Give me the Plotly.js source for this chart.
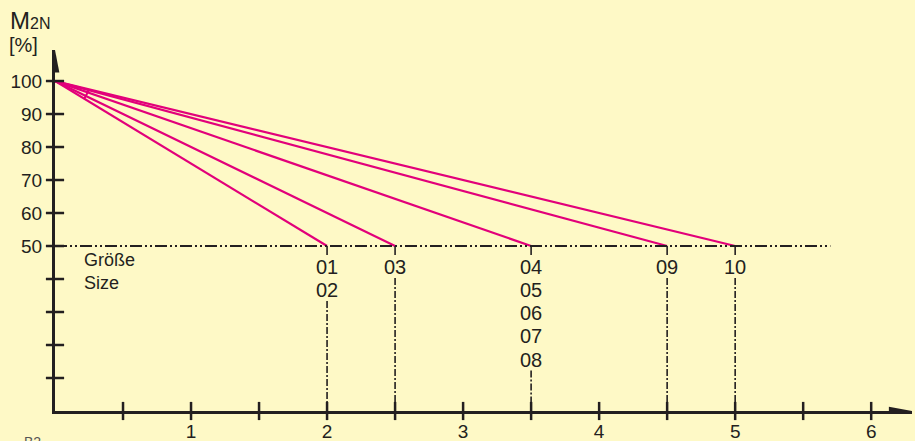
<!DOCTYPE html>
<html>
<head>
<meta charset="utf-8">
<script src="https://cdn.plot.ly/plotly-3.0.1.min.js"></script>
<style>html,body{margin:0;padding:0;background:#FEF9C6;}#chart{width:915px;height:441px;}</style>
</head>
<body>
<div id="chart"></div>
<script>
// ---- data ----
const startX = 0;
const startY = 100;          // M2N [%] at start
const endY = 50;             // M2N [%] at end
const endX = [2, 2.5, 3.5, 4.5, 5];
const sizeLabels = [["01","02"],["03"],["04","05","06","07","08"],["09"],["10"]];
const yTickVals = [10,20,30,40,50,60,70,80,90,100];
const yTickText = ["","","","","50","60","70","80","90","100"];
const xTickVals = [0.5,1,1.5,2,2.5,3,3.5,4,4.5,5,5.5,6];
const xTickText = ["","1","","2","","3","","4","","5","","6"];
const refLineEndX = 5.7;
const xMax = 6.3, yMax = 109.4;

const MAG = '#E2007A';
const INK = '#231F20';
const BG = '#FEF9C6';
const FONT = 'Liberation Sans, Arial, sans-serif';

const traces = [];
// magenta lines
endX.forEach(x => {
  traces.push({x:[startX, x], y:[startY, endY], mode:'lines', line:{color:MAG, width:2.2}, hoverinfo:'skip', cliponaxis:false});
});
// small angle mark
traces.push({x:[0.215, 0.25], y:[startY-25*0.215, startY-10.8*0.25], mode:'lines', line:{color:MAG, width:2}, hoverinfo:'skip'});
// horizontal reference line at 50
traces.push({x:[0, refLineEndX], y:[endY, endY], mode:'lines', line:{color:INK, width:2, dash:'12px,3px,2px,3px,2px,3px'}, hoverinfo:'skip'});

// vertical dash-dot lines with gaps for labels
const rowStep = 7, firstRow = 43.6;
const annotations = [];
endX.forEach((x, i) => {
  const labs = sizeLabels[i];
  traces.push({x:[x, x], y:[endY, 47.3], mode:'lines', line:{color:INK, width:1.6}, hoverinfo:'skip'});
  const bottomGap = firstRow - rowStep*(labs.length-1) - 3.3;
  traces.push({x:[x, x], y:[bottomGap, 0], mode:'lines', line:{color:INK, width:1.6, dash:'7px,2px,2px,2px'}, hoverinfo:'skip'});
  labs.forEach((t, j) => {
    annotations.push({x:x, y:firstRow - rowStep*j, xref:'x', yref:'y', text:t, showarrow:false,
      font:{family:FONT, size:20, color:INK}, xanchor:'center', yanchor:'middle'});
  });
});

// tick marks crossing the axes
traces.push({x:yTickVals.map(()=>0), y:yTickVals, mode:'markers', marker:{symbol:'line-ew', size:13, line:{color:INK, width:2.5}}, hoverinfo:'skip', cliponaxis:false});
traces.push({x:xTickVals, y:xTickVals.map(()=>0), mode:'markers', marker:{symbol:'line-ns', size:13, line:{color:INK, width:2.5}}, hoverinfo:'skip', cliponaxis:false});

annotations.push({xref:'paper', yref:'paper', x:0, y:1, xshift:-47, yshift:14, xanchor:'left', yanchor:'bottom',
  text:"M<span style='font-size:16px'>2N</span>", showarrow:false, font:{family:FONT, size:24, color:INK}});
annotations.push({xref:'paper', yref:'paper', x:0, y:1, xshift:-48, yshift:-8, xanchor:'left', yanchor:'bottom',
  text:"[%]", showarrow:false, font:{family:FONT, size:20, color:INK}});
annotations.push({xref:'x', yref:'y', x:0.2, y:49.4, xanchor:'left', yanchor:'top', align:'left',
  text:"Größe<br>Size", showarrow:false, font:{family:FONT, size:18, color:INK}});
annotations.push({xref:'paper', yref:'paper', x:0, y:0, xshift:-33, yshift:-21, xanchor:'left', yanchor:'top',
  text:"B2", showarrow:false, font:{family:FONT, size:14, color:'#555'}});

const shapes = [
  // axis arrowheads
  {type:'path', xref:'x', yref:'y', path:`M -0.032 ${yMax-6.8} L 0 ${yMax} L 0.032 ${yMax-6.8} Z`, fillcolor:INK, line:{width:0}},
  {type:'path', xref:'x', yref:'y', path:`M ${xMax-0.17} -1.3 L ${xMax} 0 L ${xMax-0.17} 1.3 Z`, fillcolor:INK, line:{width:0}}
];

const layout = {
  width:915, height:441,
  margin:{l:55, r:3, t:50, b:30},
  paper_bgcolor:BG, plot_bgcolor:BG,
  showlegend:false,
  xaxis:{range:[0, xMax], showgrid:false, zeroline:false, showline:true, linecolor:INK, linewidth:3,
    tickvals:xTickVals, ticktext:xTickText, ticks:'', ticklabelstandoff:1,
    tickfont:{family:FONT, size:19, color:INK}, fixedrange:true},
  yaxis:{range:[0, yMax], showgrid:false, zeroline:false, showline:true, linecolor:INK, linewidth:3,
    tickvals:yTickVals, ticktext:yTickText, ticks:'', ticklabelstandoff:6,
    tickfont:{family:FONT, size:19, color:INK}, fixedrange:true},
  annotations:annotations,
  shapes:shapes
};

Plotly.newPlot('chart', traces, layout, {displayModeBar:false, staticPlot:true});
</script>
</body>
</html>
